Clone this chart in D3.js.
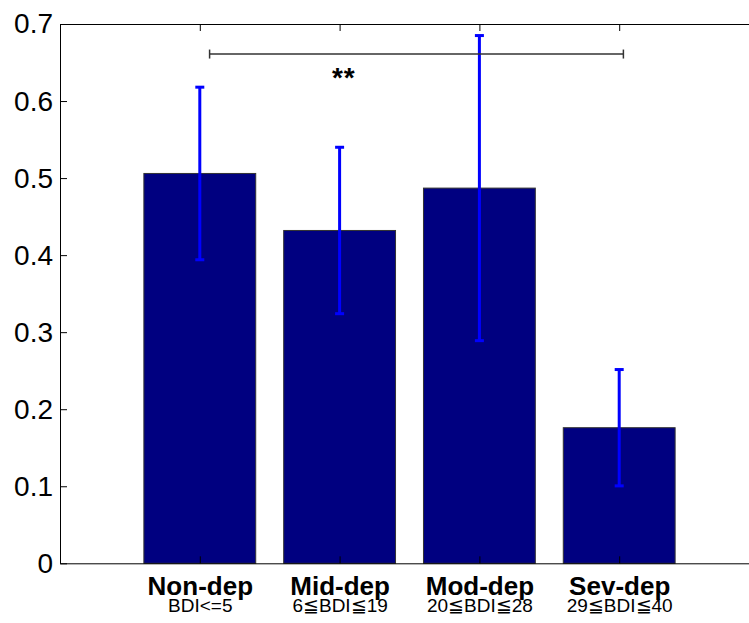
<!DOCTYPE html>
<html>
<head>
<meta charset="utf-8">
<script src="https://cdn.jsdelivr.net/npm/d3@7"></script>
<style>
  body { margin: 0; background: #fff; }
  svg { display: block; }
  .axis path, .axis line { stroke: #000; }
</style>
</head>
<body>
<div id="chart"></div>
<script>
// data
const groups = ['Non-dep', 'Mid-dep', 'Mod-dep', 'Sev-dep'];
const ranges = ['BDI<=5', '6\u2266BDI\u226619', '20\u2266BDI\u226628', '29\u2266BDI\u226640'];
const means = [0.506, 0.432, 0.487, 0.176];
const errs = [0.112, 0.108, 0.198, 0.0755];
const yTicks = [0, 0.1, 0.2, 0.3, 0.4, 0.5, 0.6, 0.7];
// significance bracket: from/to in bar units, height, label
const sigFrom = [1.07, 4.03];
const sigY = 0.661;
const sigLabel = '**';

const W = 749, H = 623;
const margin = { top: 24, left: 60, bottom: 59.7 };
const font = "'Liberation Sans', Arial, sans-serif";

const svg = d3.select('#chart').append('svg')
  .attr('width', W).attr('height', H)
  .attr('font-family', font);

const x = d3.scaleLinear().domain([0, 5]).range([margin.left, margin.left + 5 * 139.8]);
const y = d3.scaleLinear().domain([0, 0.7]).range([H - margin.bottom, margin.top]);
const barW = x(0.8) - x(0);

// bars
svg.append('g')
  .selectAll('rect')
  .data(means)
  .join('rect')
  .attr('x', (d, i) => x(i + 1) - barW / 2)
  .attr('y', d => y(d))
  .attr('width', barW)
  .attr('height', d => y(0) - y(d))
  .attr('fill', '#000080')
  .attr('stroke', '#333')
  .attr('stroke-width', 1);

// error bars
const eb = svg.append('g').attr('stroke', '#0000ff').attr('stroke-width', 3);
means.forEach((m, i) => {
  const cx = x(i + 1);
  eb.append('line')
    .attr('x1', cx).attr('x2', cx)
    .attr('y1', y(m - errs[i])).attr('y2', y(m + errs[i]));
  [m - errs[i], m + errs[i]].forEach(v => {
    eb.append('line')
      .attr('x1', cx - 4.5).attr('x2', cx + 4.5)
      .attr('y1', y(v)).attr('y2', y(v));
  });
});

// axes
const yAxis = svg.append('g')
  .attr('class', 'axis')
  .attr('transform', 'translate(' + margin.left + ',0)')
  .call(d3.axisLeft(y).tickValues(yTicks).tickSize(-7).tickSizeOuter(0).tickPadding(7)
    .tickFormat(d => d === 0 ? '0' : d3.format('.1f')(d)));
yAxis.attr('font-family', font);
yAxis.selectAll('text').attr('font-size', 28).attr('fill', '#000');

const xAxis = svg.append('g')
  .attr('class', 'axis')
  .attr('transform', 'translate(0,' + y(0) + ')')
  .call(d3.axisBottom(x).tickValues([1, 2, 3, 4]).tickSize(-7).tickSizeOuter(0)
    .tickFormat((d, i) => groups[i]));
xAxis.attr('font-family', font);
xAxis.selectAll('.tick text')
  .attr('y', 31.7).attr('dy', null)
  .attr('font-size', 26).attr('font-weight', 'bold')
  .attr('fill', '#000');
xAxis.selectAll('.tick')
  .append('text')
  .attr('y', 48.6)
  .attr('text-anchor', 'middle')
  .attr('font-size', 19)
  .attr('fill', '#000')
  .text((d, i) => ranges[i]);

svg.append('g')
  .attr('class', 'axis')
  .attr('transform', 'translate(0,' + y(0.7) + ')')
  .call(d3.axisTop(x).tickValues([1, 2, 3, 4]).tickSize(-7).tickSizeOuter(0).tickFormat(''));

// significance bracket
const sig = svg.append('g').attr('stroke', '#333').attr('stroke-width', 1.5);
sig.append('line')
  .attr('x1', x(sigFrom[0])).attr('x2', x(sigFrom[1]))
  .attr('y1', y(sigY)).attr('y2', y(sigY));
sigFrom.forEach(v => {
  sig.append('line')
    .attr('x1', x(v)).attr('x2', x(v))
    .attr('y1', y(sigY) - 4.5).attr('y2', y(sigY) + 4.5);
});
svg.append('text')
  .attr('x', x(2.03))
  .attr('y', y(sigY) + 33)
  .attr('text-anchor', 'middle')
  .attr('font-size', 28)
  .attr('font-weight', 'bold')
  .attr('letter-spacing', 1)
  .text(sigLabel);
</script>
</body>
</html>
